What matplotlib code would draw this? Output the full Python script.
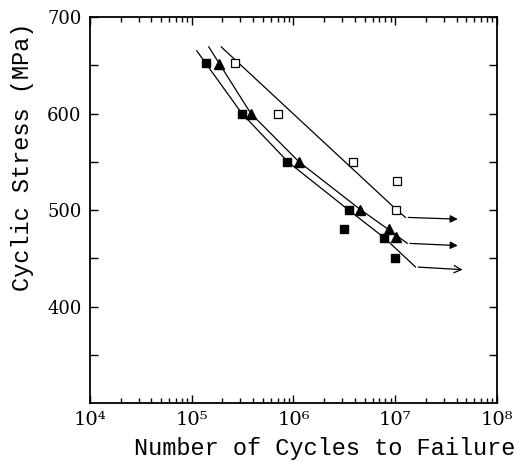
import numpy as np
import matplotlib
matplotlib.use("Agg")
import matplotlib.pyplot as plt
from matplotlib.ticker import FixedLocator, NullFormatter

# measured points (cycles, stress MPa)
sq_filled_N = [1.39e5, 3.13e5, 8.7e5, 3.48e6, 3.16e6, 7.8e6, 1.0e7]
sq_filled_S = [652, 600, 550, 500, 480, 471, 450]

tri_N = [1.87e5, 3.79e5, 1.12e6, 4.47e6, 8.7e6, 1.01e7]
tri_S = [651, 600, 550, 500, 480, 472]

sq_open_N = [2.67e5, 7.06e5, 3.87e6, 1.03e7, 1.02e7]
sq_open_S = [652, 600, 550, 530, 500]

# fitted curves (knee at the last point, then run-out arrow)
fit_sq_N = [1.12e5, 3.11e5, 8.8e5, 3.48e6, 7.85e6, 1.58e7]
fit_sq_S = [665, 600, 550, 500, 471, 441]
arrow_sq = (4.89e7, 438)

fit_tri_N = [1.47e5, 3.81e5, 1.13e6, 4.47e6, 8.8e6, 1.31e7]
fit_tri_S = [669, 600, 550, 501, 479, 465.5]
arrow_tri = (4.38e7, 463)

fit_open_N = [1.95e5, 9.0e6, 1.03e7, 1.26e7]
fit_open_S = [669, 506, 500, 492.4]
arrow_open = (4.38e7, 490.4)

xtick_vals = [1e4, 1e5, 1e6, 1e7, 1e8]
xtick_labels = ['10⁴', '10⁵', '10⁶', '10⁷', '10⁸']
ytick_vals = [400, 500, 600, 700]

fig = plt.figure(figsize=(5.2, 4.66), dpi=100)
ax = fig.add_axes([90/520, 1-403/466, 407/520, 386/466])

ax.plot(fit_sq_N, fit_sq_S, color='k', lw=0.9)
ax.plot(fit_tri_N, fit_tri_S, color='k', lw=0.9)
ax.plot(fit_open_N, fit_open_S, color='k', lw=0.9)

ax.annotate('', xy=arrow_open, xytext=(fit_open_N[-1], fit_open_S[-1]),
            arrowprops=dict(arrowstyle='-|>', lw=0.9, color='k', mutation_scale=11))
ax.annotate('', xy=arrow_tri, xytext=(fit_tri_N[-1], fit_tri_S[-1]),
            arrowprops=dict(arrowstyle='-|>', lw=0.9, color='k', mutation_scale=11))
ax.annotate('', xy=arrow_sq, xytext=(fit_sq_N[-1], fit_sq_S[-1]),
            arrowprops=dict(arrowstyle='->', lw=0.9, color='k', mutation_scale=13))

ax.plot(sq_filled_N, sq_filled_S, 's', color='k', ms=5.5, ls='none')
ax.plot(tri_N, tri_S, '^', color='k', ms=7, ls='none')
ax.plot(sq_open_N, sq_open_S, 's', mfc='white', mec='k', mew=0.9, ms=5.5, ls='none')

ax.set_xscale('log')
ax.set_xlim(1e4, 1e8)
ax.set_ylim(300, 700)

ax.set_xticks(xtick_vals)
ax.set_xticklabels(xtick_labels, fontfamily='DejaVu Serif', fontsize=14)
ax.set_yticks(ytick_vals)
ax.set_yticklabels([str(v) for v in ytick_vals], fontfamily='DejaVu Serif', fontsize=13)
ax.yaxis.set_minor_locator(FixedLocator([350, 450, 550, 650]))
ax.yaxis.set_minor_formatter(NullFormatter())

ax.tick_params(which='both', direction='in', top=True, right=True, width=1)
ax.tick_params(which='major', length=6, pad=6)
ax.tick_params(axis='y', which='minor', length=6)
ax.tick_params(axis='x', which='minor', length=3.5)

for sp in ax.spines.values():
    sp.set_linewidth(1.3)

fig.text(325/520, 1-448/466, 'Number of Cycles to Failure', fontfamily='Liberation Mono',
         fontsize=17, ha='center', va='center')
fig.text(23/520, 1-157/466, 'Cyclic Stress (MPa)', fontfamily='Liberation Mono',
         fontsize=17, ha='center', va='center', rotation=90)

fig.savefig('out.png', dpi=100)
